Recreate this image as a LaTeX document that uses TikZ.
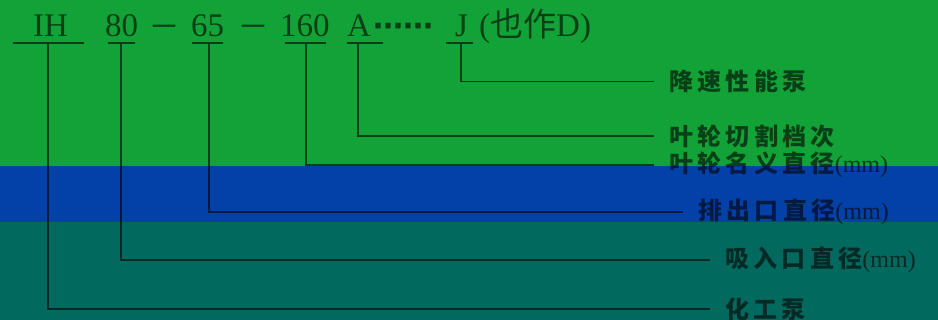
\documentclass[tikz,border=0pt]{standalone}
\usepackage{fontspec}
\setmainfont{Liberation Serif}
\newfontfamily\cjk{Noto Sans CJK SC}
\newfontfamily\cjkwide{Noto Sans CJK SC}[LetterSpace=18]
\newfontfamily\symfont{DejaVu Sans}
\definecolor{bandgreen}{HTML}{12A237}
\definecolor{bandblue}{HTML}{0341A8}
\definecolor{bandteal}{HTML}{02695F}
\begin{document}
\begin{tikzpicture}[
    x=1pt, y=-1pt,
    ink/.style={black, opacity=0.6},
    codetext/.style={
        ink,
        anchor=base west,
        inner sep=0pt,
        font=\fontsize{33}{33}\selectfont
    },
    desc/.style={
        ink,
        anchor=west,
        inner xsep=15pt,
        inner ysep=0pt,
        font=\cjkwide\bfseries\fontsize{24}{24}\selectfont
    },
    wire/.style={ink, line width=1.8pt}
]

% 底色
\useasboundingbox (0,0) rectangle (938,320);
\fill[bandgreen] (0,0) rectangle (938,166);
\fill[bandblue] (0,166) rectangle (938,222);
\fill[bandteal] (0,222) rectangle (938,320);

% 型号
\node[codetext] (IH) at (33,37) {IH};
\node[codetext] (n80) at (105,37) {80};
\node[codetext, font=\fontsize{44}{44}\selectfont] (d1) at (153,37) {–};
\node[codetext] (n65) at (191,37) {65};
\node[codetext, font=\fontsize{44}{44}\selectfont] (d2) at (242,37) {–};
\node[codetext] (n160) at (280,37) {160};
\node[codetext] (A) at (347,37) {A};
\node[codetext, font=\symfont\bfseries\fontsize{30}{30}\selectfont] (dots) at (373,37) {⋯⋯};
\node[codetext] (J) at (455,37) {J};
\node[codetext] (alt) at (479,37) {({\cjk 也作}D)};

% 引出点
\coordinate (tIH) at (48,43);
\coordinate (t80) at (121,43);
\coordinate (t65) at (209,43);
\coordinate (t160) at (306,43);
\coordinate (tA) at (358,43);
\coordinate (tJ) at (461,43);

% 说明
\node[desc] (lJ) at (654,81.5) {降速性能泵};
\node[desc] (lA) at (654,136) {叶轮切割档次};
\node[desc] (l160) at (654,165) {叶轮名义直径{\rmfamily\mdseries(mm)}};
\node[desc] (l65) at (683,212) {排出口直径{\rmfamily\mdseries(mm)}};
\node[desc] (l80) at (710,260) {吸入口直径{\rmfamily\mdseries(mm)}};
\node[desc] (lIH) at (710,309) {化工泵};

% 下划线和引线
\draw[wire] ([xshift=-35pt]tIH) -- ([xshift=36pt]tIH) (tIH) |- (lIH.west);
\draw[wire] ([xshift=-13pt]t80) -- ([xshift=14pt]t80) (t80) |- (l80.west);
\draw[wire] ([xshift=-17pt]t65) -- ([xshift=14pt]t65) (t65) |- (l65.west);
\draw[wire] ([xshift=-21pt]t160) -- ([xshift=20pt]t160) (t160) |- (l160.west);
\draw[wire] ([xshift=-11pt]tA) -- ([xshift=25pt]tA) (tA) |- (lA.west);
\draw[wire] ([xshift=-15pt]tJ) -- ([xshift=12pt]tJ) (tJ) |- (lJ.west);

\end{tikzpicture}
\end{document}
